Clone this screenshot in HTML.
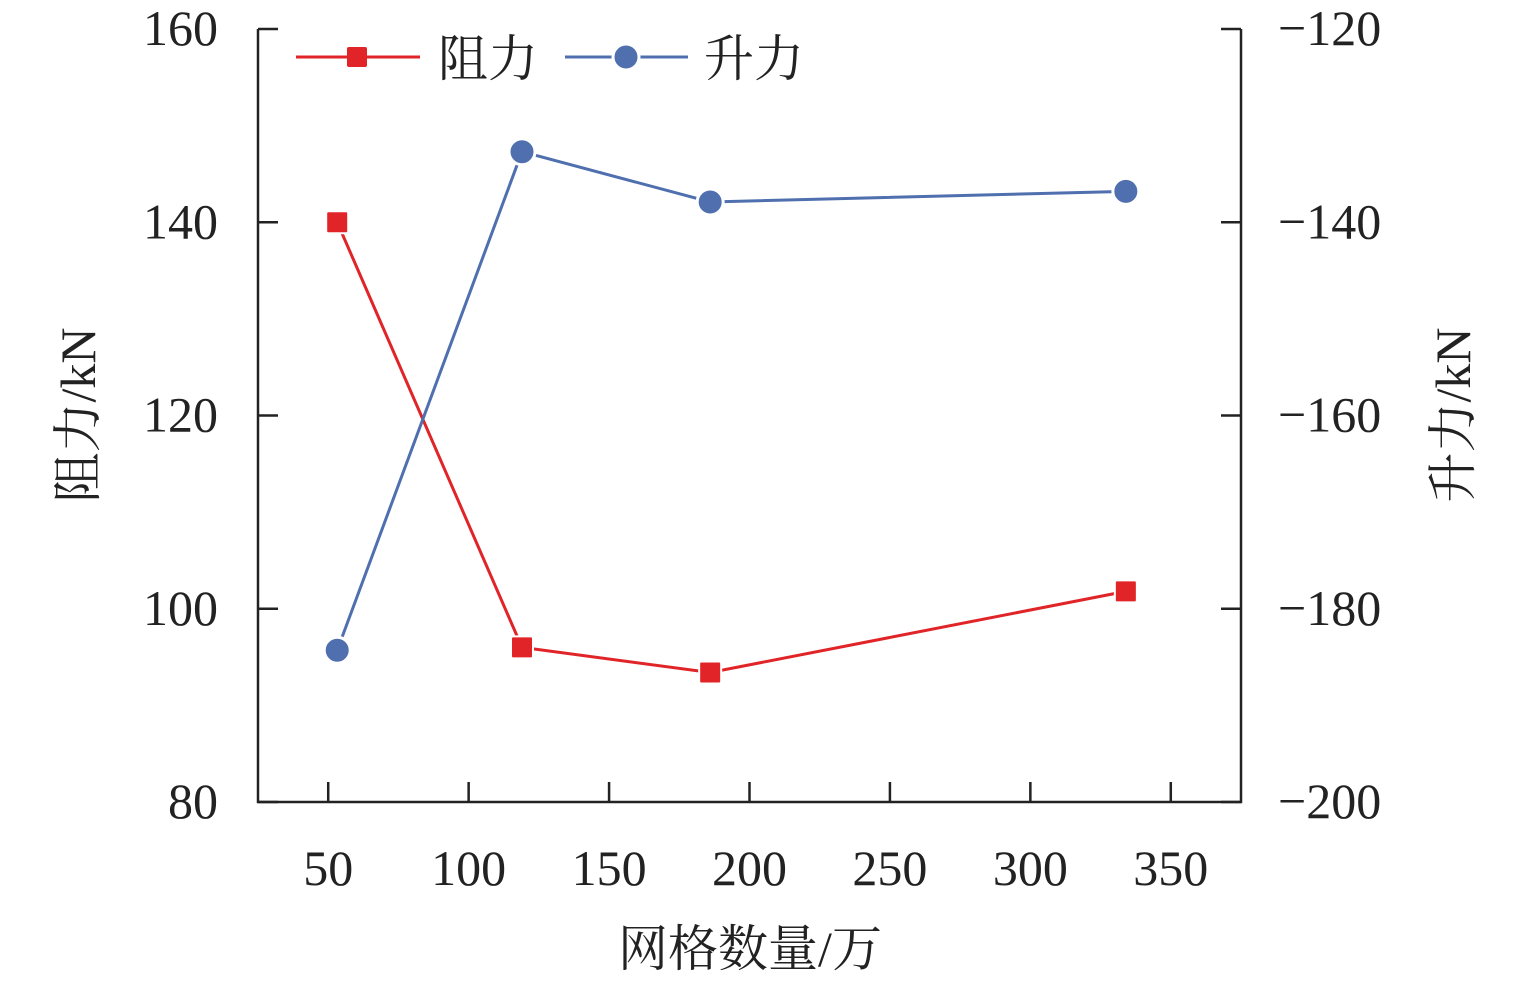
<!DOCTYPE html>
<html><head><meta charset="utf-8"><style>
html,body{margin:0;padding:0;background:#fff;}
svg text{font-family:"Liberation Serif","Noto Serif CJK SC",serif;fill:#222;}
</style></head><body>
<svg id="chart" width="1535" height="984" viewBox="0 0 1535 984" xmlns="http://www.w3.org/2000/svg">
<g id="axes"></g>
<g id="series"></g>
<g id="legend">
  <line x1="296" y1="57" x2="420" y2="57" stroke="#e02428" stroke-width="3"/>
  <rect x="347" y="47" width="20" height="20" rx="2" fill="#e02428"/>
  <text x="438" y="76" font-size="50">阻力</text>
  <line x1="565" y1="57" x2="688" y2="57" stroke="#4f6faf" stroke-width="3"/>
  <circle cx="626" cy="57" r="13" fill="#4f6faf" stroke="#fff" stroke-width="3"/>
  <text x="704" y="76" font-size="50">升力</text>
</g>
</svg>
<script>
const xTicks=[50,100,150,200,250,300,350];
const leftTicks=[80,100,120,140,160];
const rightTicks=[-200,-180,-160,-140,-120];
const gridCounts=[53.2,119,186,334];
const dragValues=[140,96,93.4,101.8];
const liftValues=[-184.3,-132.7,-137.9,-136.8];
const L=258,R=1241,T=29,B=802;
const xs=v=>L+(v-25)/(375-25)*(R-L);
const yl=v=>B-(v-80)/80*(B-T);
const yr=v=>B-(v+200)/80*(B-T);
const NS='http://www.w3.org/2000/svg';
function mk(tag,attrs,parent){const e=document.createElementNS(NS,tag);for(const k in attrs)e.setAttribute(k,attrs[k]);parent.appendChild(e);return e;}
const ax=document.getElementById('axes');
let p=mk('path',{d:`M${L},${T}V${B}H${R}V${T}`,fill:'none',stroke:'#222','stroke-width':2.5},ax);


xTicks.forEach(v=>{const x=xs(v);
 let l=mk('line',{x1:x,y1:B,x2:x,y2:B-20,stroke:'#222','stroke-width':2.5},ax);
 
 
 let t=mk('text',{x:x,y:885,'font-size':50,'text-anchor':'middle'},ax);t.textContent=v;
 
 });
leftTicks.forEach(v=>{const y=yl(v);
 let l=mk('line',{x1:L,y1:y,x2:L+20,y2:y,stroke:'#222','stroke-width':2.5},ax);
 
 
 let t=mk('text',{x:218,y:y+16,'font-size':50,'text-anchor':'end'},ax);t.textContent=v;
 
 });
rightTicks.forEach(v=>{const y=yr(v);
 let l=mk('line',{x1:R,y1:y,x2:R-20,y2:y,stroke:'#222','stroke-width':2.5},ax);
 
 
 let t=mk('text',{x:1278,y:y+16,'font-size':50},ax);t.textContent='\u2212'+Math.abs(v);
 
 });
let xt=mk('text',{x:750,y:966,'font-size':50,'text-anchor':'middle'},ax);xt.textContent='网格数量/万';


let lt=mk('text',{x:0,y:0,'font-size':50,'text-anchor':'middle',transform:'translate(95,415) rotate(-90)'},ax);lt.textContent='阻力/kN';


let rt=mk('text',{x:0,y:0,'font-size':50,'text-anchor':'middle',transform:'translate(1470,415) rotate(-90)'},ax);rt.textContent='升力/kN';


const se=document.getElementById('series');
let dl=mk('polyline',{points:gridCounts.map((g,i)=>xs(g)+','+yl(dragValues[i])).join(' '),fill:'none',stroke:'#e02428','stroke-width':3},se);


let ll=mk('polyline',{points:gridCounts.map((g,i)=>xs(g)+','+yr(liftValues[i])).join(' '),fill:'none',stroke:'#4f6faf','stroke-width':3},se);


gridCounts.forEach((g,i)=>{
 let r=mk('rect',{x:xs(g)-11,y:yl(dragValues[i])-11,width:22,height:22,rx:2,fill:'#e02428',stroke:'#fff','stroke-width':2},se);
 
 
 let c=mk('circle',{cx:xs(g),cy:yr(liftValues[i]),r:13,fill:'#4f6faf',stroke:'#fff','stroke-width':3},se);
 
 
});
</script>
</body></html>
